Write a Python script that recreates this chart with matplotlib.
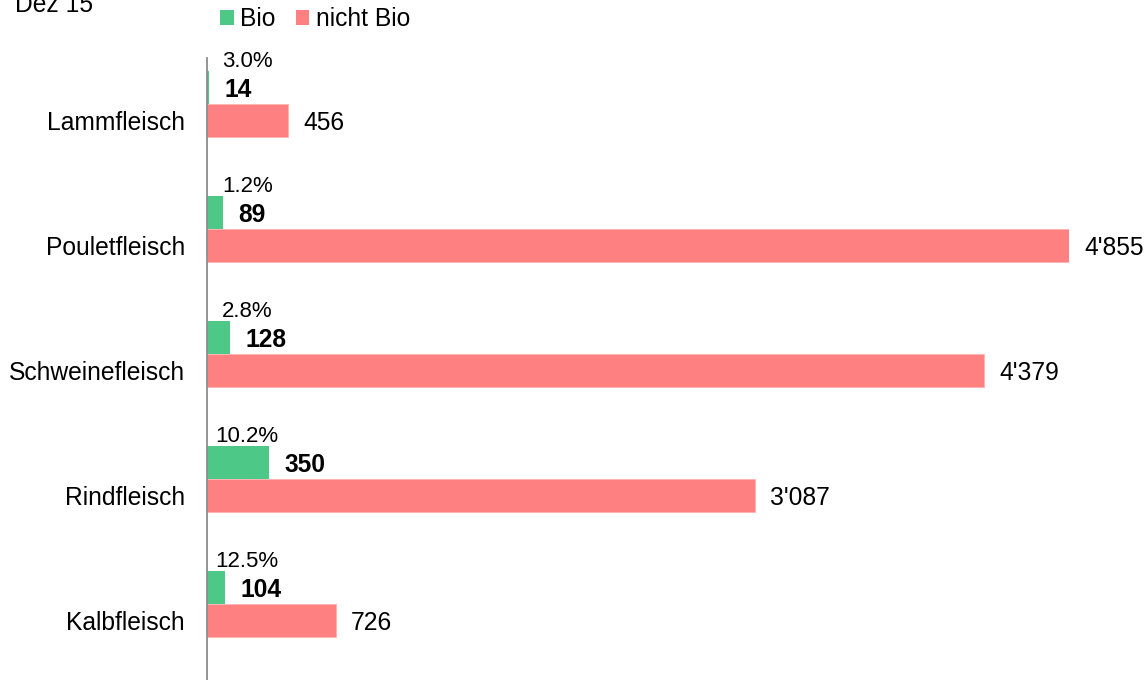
import matplotlib
matplotlib.use("Agg")
import matplotlib.pyplot as plt
from matplotlib.patches import Patch

plt.rcParams['font.family'] = ['Liberation Sans', 'DejaVu Sans']

# Data (bottom to top)
categories = ["Kalbfleisch", "Rindfleisch", "Schweinefleisch", "Pouletfleisch", "Lammfleisch"]
bio = [104, 350, 128, 89, 14]
nicht_bio = [726, 3087, 4379, 4855, 456]
pct_labels = ["12.5%", "10.2%", "2.8%", "1.2%", "3.0%"]
title = "Dez 15"
series_names = ["Bio", "nicht Bio"]

GREEN = "#4DC886"
PINK = "#FF8080"

W, H = 1146, 680
fig = plt.figure(figsize=(W / 100, H / 100), dpi=100)
ax = fig.add_axes([207 / W, 0, 862 / W, (H - 58) / H])

n = len(categories)
ypos = list(range(n))
off = 0.132
bh = 0.264
y_green = [y + off for y in ypos]
y_pink = [y - off for y in ypos]

ax.barh(y_pink, nicht_bio, height=bh, color=PINK, edgecolor="#FFB3B3", linewidth=0.6)
ax.barh(y_green, bio, height=bh, color=GREEN, linewidth=0)

ax.set_xlim(0, max(nicht_bio))
ax.set_ylim(-0.608, n - 1 + 0.368)

def fmt(v):
    return f"{v:,}".replace(",", "'")

fs = 17.7
for yg, yp, b, nb, p in zip(y_green, y_pink, bio, nicht_bio, pct_labels):
    ax.annotate(fmt(nb), xy=(nb, yp), xytext=(11, -2), textcoords="offset points",
                ha="left", va="center", fontsize=fs, color="black", annotation_clip=False)
    ax.annotate(fmt(b), xy=(b, yg), xytext=(11, -2), textcoords="offset points",
                ha="left", va="center", fontsize=fs, fontweight="bold", color="black",
                annotation_clip=False)
    ax.annotate(p, xy=(0, yg + bh / 2), xytext=(29, 7), textcoords="offset points",
                ha="center", va="center", fontsize=16, color="black",
                annotation_clip=False)

ax.set_yticks(y_pink)
ax.set_yticklabels(categories, fontsize=fs)
ax.tick_params(axis="y", length=0, pad=16)
ax.set_xticks([])
for s in ["top", "right", "bottom"]:
    ax.spines[s].set_visible(False)
ax.spines["left"].set_color("#8C8C8C")
ax.spines["left"].set_linewidth(1.3)

fig.text(15 / W, 1 - 12 / H, title, fontsize=fs, ha="left", va="baseline")

handles = [Patch(facecolor=GREEN, edgecolor="none"), Patch(facecolor=PINK, edgecolor="none")]
fig.legend(handles, series_names, loc="center left", bbox_to_anchor=(220 / W, 1 - 19 / H),
           ncol=2, frameon=False, fontsize=fs, borderpad=0, handlelength=0.55,
           handleheight=0.55, handletextpad=0.25, columnspacing=0.85, borderaxespad=0)

fig.savefig("out.png", dpi=100)
